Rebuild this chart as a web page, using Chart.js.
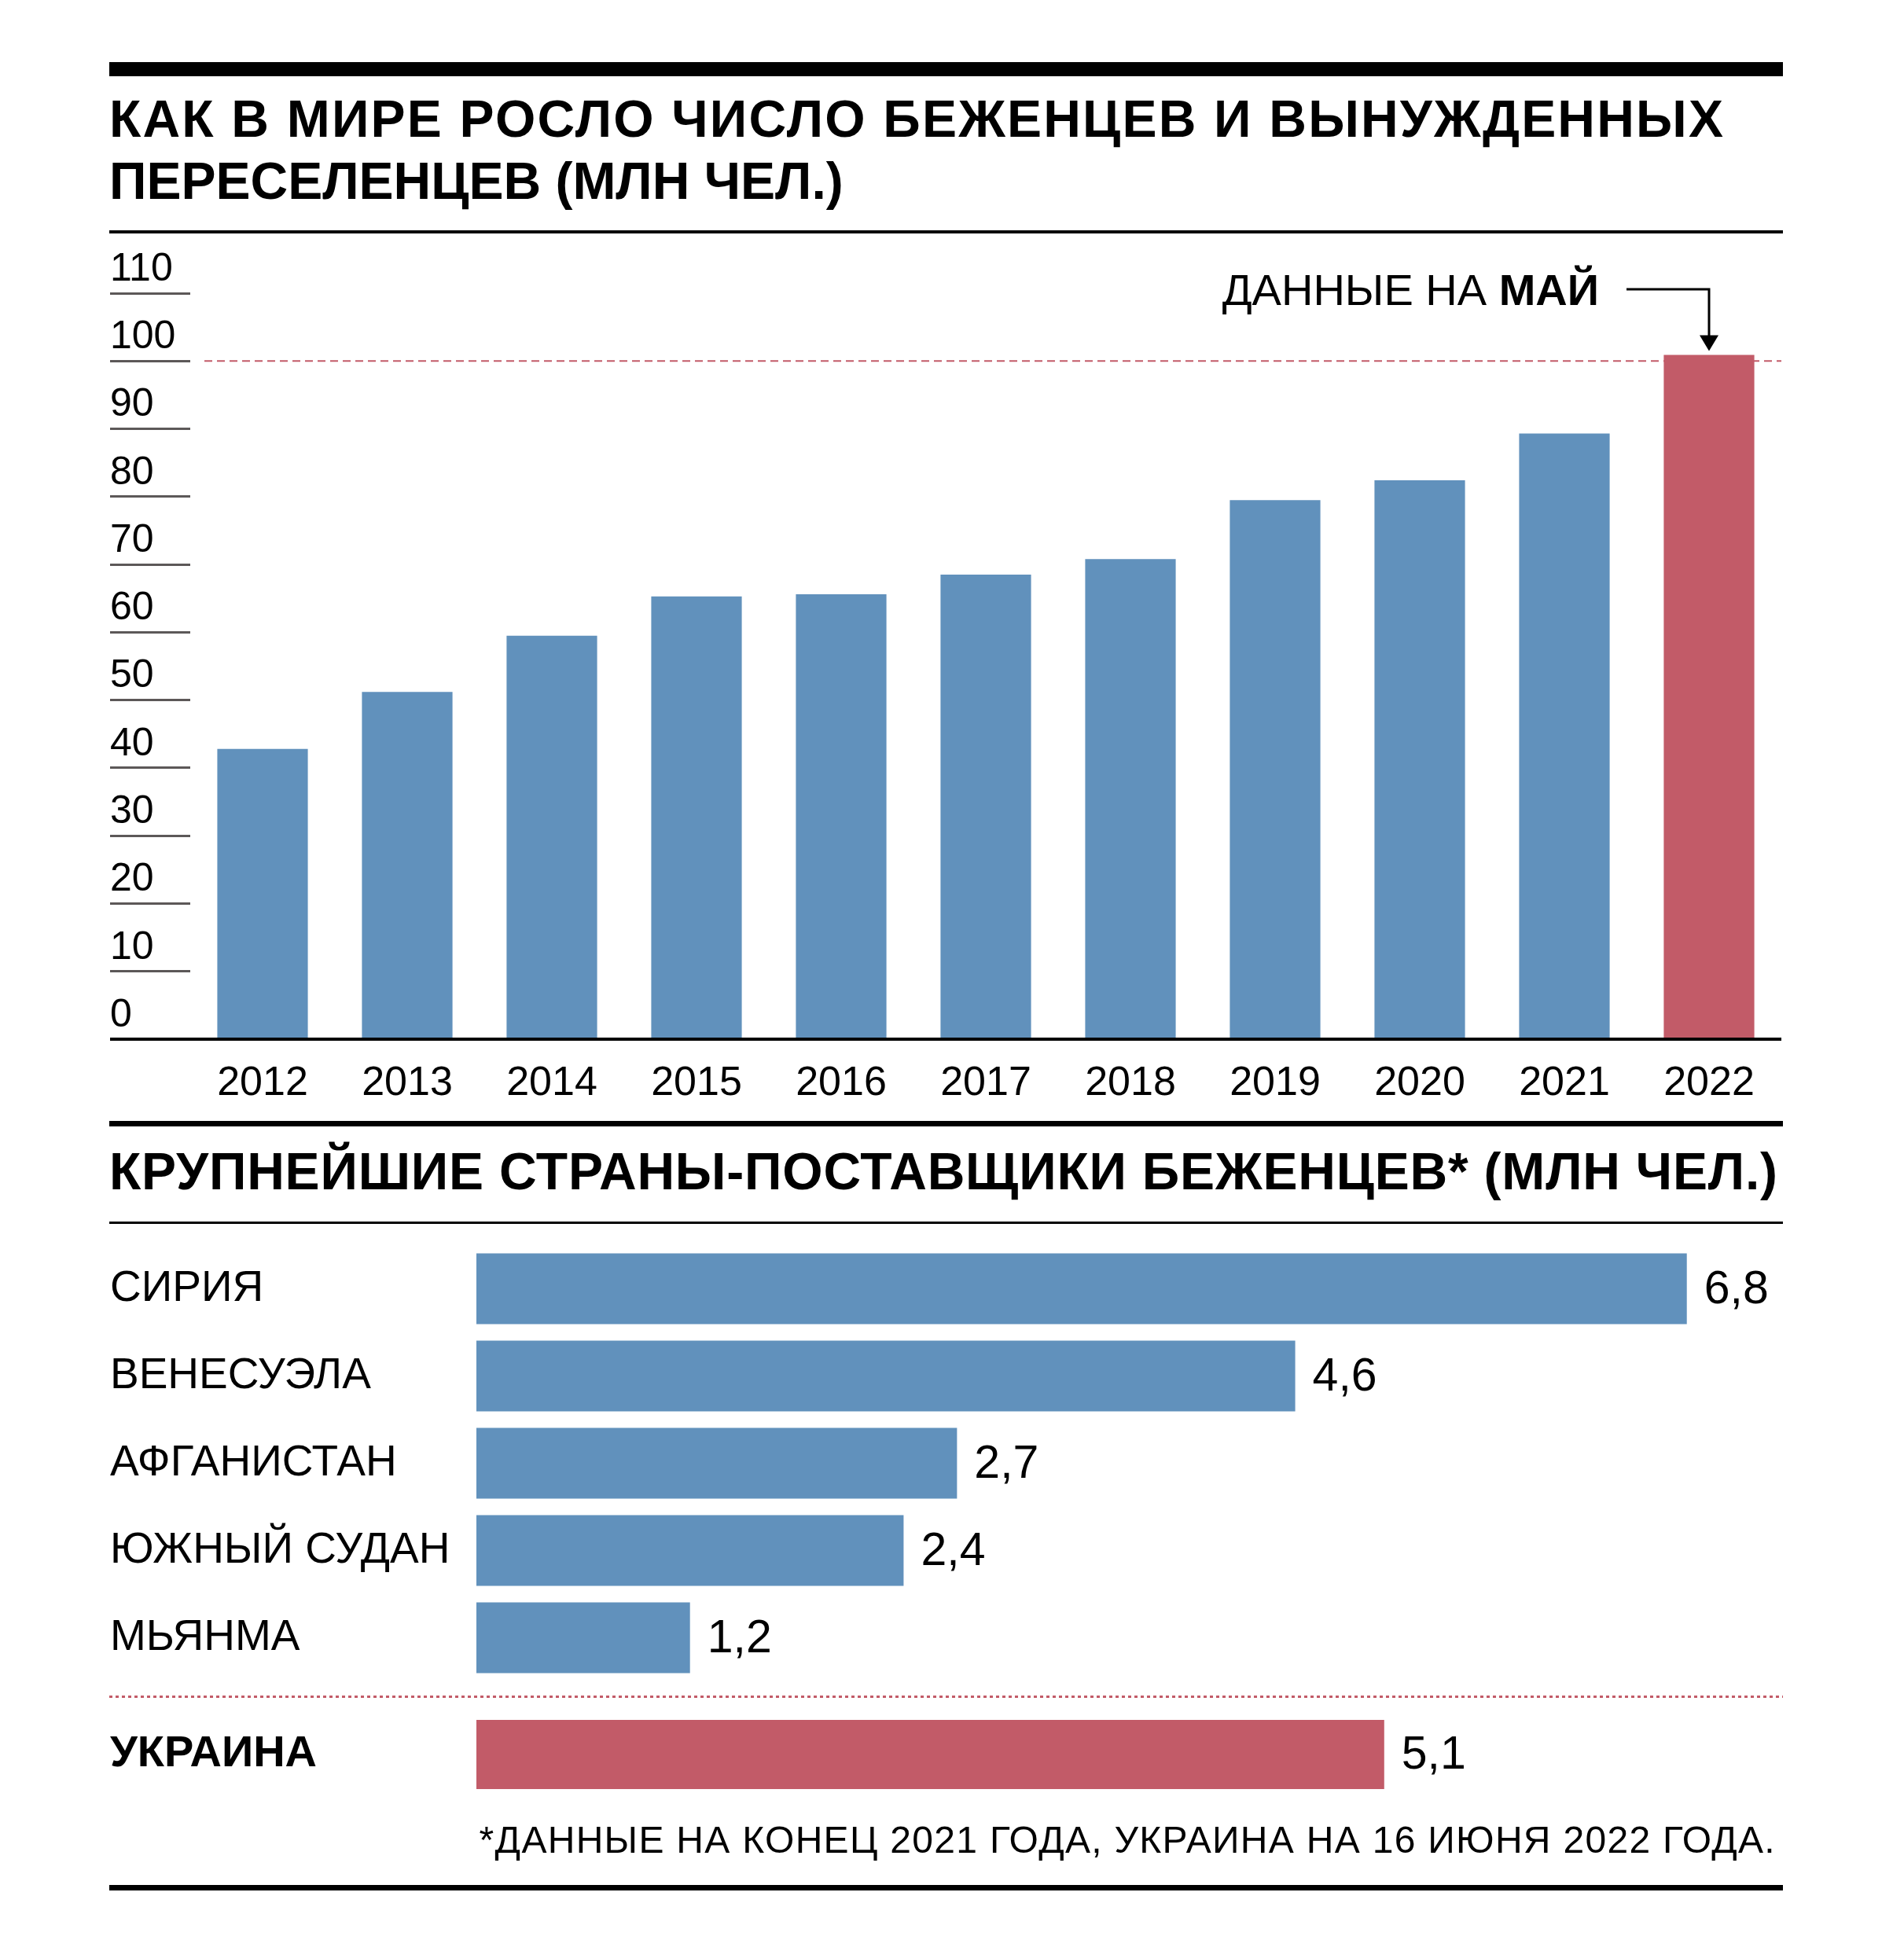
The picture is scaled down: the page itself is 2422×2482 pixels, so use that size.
<!DOCTYPE html>
<html lang="ru">
<head>
  <meta charset="UTF-8" />
  <title>Беженцы и вынужденные переселенцы</title>
  <script src="https://cdn.jsdelivr.net/npm/chart.js"></script>
  <style>
    body {
      margin: 0;
      width: 2422px;
      height: 2482px;
      background: #fff;
      position: relative;
      font-family: "Liberation Sans", Arial, sans-serif;
      color: #000;
      overflow: hidden;
    }

    .rule {
      position: absolute;
      left: 139px;
      width: 2129px;
      background: #000;
    }

    .title {
      position: absolute;
      left: 139px;
      margin: 0;
      font-size: 66px;
      font-weight: bold;
      line-height: 79px;
      white-space: nowrap;
    }

    .dotted {
      position: absolute;
      left: 139px;
      width: 2129px;
      height: 3px;
      background: repeating-linear-gradient(90deg, #c25b68 0 4px, transparent 4px 8px);
    }

    .note {
      position: absolute;
      right: 163px;
      font-size: 48px;
      line-height: 48px;
      letter-spacing: 1.3px;
      white-space: nowrap;
    }

    canvas {
      position: absolute;
      left: 0;
    }
  </style>
</head>
<body>

  <div class="rule" style="top:79px;height:18px"></div>
  <h1 class="title" style="top:112px"><span style="letter-spacing:2.2px">КАК В МИРЕ РОСЛО ЧИСЛО БЕЖЕНЦЕВ И ВЫНУЖДЕННЫХ</span><br>ПЕРЕСЕЛЕНЦЕВ (МЛН ЧЕЛ.)</h1>
  <div class="rule" style="top:293px;height:4px"></div>

  <canvas id="yearsChart" width="2422" height="1120" style="top:300px"></canvas>

  <div class="rule" style="top:1426px;height:7px"></div>
  <h2 class="title" style="top:1451px;letter-spacing:0.8px">КРУПНЕЙШИЕ СТРАНЫ-ПОСТАВЩИКИ БЕЖЕНЦЕВ* (МЛН ЧЕЛ.)</h2>
  <div class="rule" style="top:1554px;height:3px"></div>

  <div class="dotted" style="top:2157px"></div>
  <canvas id="countriesChart" width="2422" height="623" style="top:1550px"></canvas>
  <canvas id="ukraineChart" width="2422" height="178" style="top:2143px"></canvas>

  <div class="note" style="top:2317px">*ДАННЫЕ НА КОНЕЦ 2021 ГОДА, УКРАИНА НА 16 ИЮНЯ 2022 ГОДА.</div>
  <div class="rule" style="top:2398px;height:7px"></div>

  <script>
    // values
    const years = ["2012", "2013", "2014", "2015", "2016", "2017", "2018", "2019", "2020", "2021", "2022"];
    const displaced = [42.8, 51.2, 59.5, 65.3, 65.6, 68.5, 70.8, 79.5, 82.4, 89.3, 100.9];
    const yTickValues = [0, 10, 20, 30, 40, 50, 60, 70, 80, 90, 100, 110];

    const countries = ["СИРИЯ", "ВЕНЕСУЭЛА", "АФГАНИСТАН", "ЮЖНЫЙ СУДАН", "МЬЯНМА"];
    const refugees = [6.8, 4.6, 2.7, 2.4, 1.2];
    const ukraineLabel = ["УКРАИНА"];
    const ukraineRefugees = [5.1];

    const BLUE = "#6191bc";
    const RED = "#c25b68";
    const FONT = "'Liberation Sans', Arial, sans-serif";

    Chart.defaults.font.family = FONT;
    Chart.defaults.color = "#000";

    // dashed line at 100 mln, behind the bars
    const hundredLine = {
      id: "hundredLine",
      beforeDatasetsDraw(chart) {
        const { ctx, chartArea, scales } = chart;
        const y = scales.y.getPixelForValue(100);
        ctx.save();
        ctx.strokeStyle = RED;
        ctx.lineWidth = 2;
        ctx.setLineDash([10, 6]);
        ctx.beginPath();
        ctx.moveTo(chartArea.left + 18, y);
        ctx.lineTo(chartArea.right, y);
        ctx.stroke();
        ctx.restore();
      }
    };

    // "ДАННЫЕ НА МАЙ" with arrow to the last bar
    const mayNote = {
      id: "mayNote",
      afterDatasetsDraw(chart) {
        const { ctx, chartArea } = chart;
        const meta = chart.getDatasetMeta(0);
        const bar = meta.data[meta.data.length - 1];
        const armY = chartArea.top - 5;
        const tipY = bar.y - 5;

        ctx.save();
        ctx.strokeStyle = "#000";
        ctx.fillStyle = "#000";
        ctx.lineWidth = 3;
        ctx.beginPath();
        ctx.moveTo(bar.x - 105, armY);
        ctx.lineTo(bar.x, armY);
        ctx.lineTo(bar.x, tipY - 18);
        ctx.stroke();
        ctx.beginPath();
        ctx.moveTo(bar.x - 12, tipY - 20);
        ctx.lineTo(bar.x + 12, tipY - 20);
        ctx.lineTo(bar.x, tipY);
        ctx.closePath();
        ctx.fill();

        const textRight = bar.x - 140;
        const baseY = chartArea.top + 15;
        ctx.textBaseline = "alphabetic";
        ctx.textAlign = "right";
        ctx.font = "bold 56px " + FONT;
        ctx.fillText("МАЙ", textRight, baseY);
        const boldW = ctx.measureText("МАЙ").width;
        ctx.font = "56px " + FONT;
        ctx.fillText("ДАННЫЕ НА ", textRight - boldW, baseY);
        ctx.restore();
      }
    };

    // numbers at the end of horizontal bars
    const valueLabels = {
      id: "valueLabels",
      afterDatasetsDraw(chart) {
        const { ctx } = chart;
        const meta = chart.getDatasetMeta(0);
        const values = chart.data.datasets[0].data;
        ctx.save();
        ctx.font = "59px " + FONT;
        ctx.fillStyle = "#000";
        ctx.textAlign = "left";
        ctx.textBaseline = "middle";
        meta.data.forEach((bar, i) => {
          ctx.fillText(String(values[i]).replace(".", ","), bar.x + 22, bar.y + 2);
        });
        ctx.restore();
      }
    };

    new Chart(document.getElementById("yearsChart"), {
      type: "bar",
      data: {
        labels: years,
        datasets: [{
          data: displaced,
          backgroundColor: years.map((y, i) => i === years.length - 1 ? RED : BLUE),
          barPercentage: 0.626,
          categoryPercentage: 1
        }]
      },
      plugins: [hundredLine, mayNote],
      options: {
        responsive: false,
        animation: false,
        layout: { padding: { left: 140, right: 156, top: 73, bottom: 0 } },
        plugins: {
          legend: { display: false },
          tooltip: { enabled: false }
        },
        scales: {
          x: {
            grid: { display: false, drawTicks: false },
            border: { display: false },
            ticks: { font: { size: 52 }, padding: 25, maxRotation: 0 },
            afterFit: scale => { scale.height = 98; }
          },
          y: {
            min: 0,
            max: 110,
            afterBuildTicks: scale => { scale.ticks = yTickValues.map(v => ({ value: v })); },
            border: { display: false },
            grid: {
              drawTicks: true,
              tickLength: 102,
              color: c => c.tick && c.tick.value === 0 ? "#000" : "rgba(0,0,0,0)",
              tickColor: c => c.tick && c.tick.value === 0 ? "#000" : "#5c5858",
              lineWidth: c => c.tick && c.tick.value === 0 ? 4 : 3,
              tickWidth: c => c.tick && c.tick.value === 0 ? 4 : 3
            },
            ticks: {
              font: { size: 50 },
              crossAlign: "far",
              padding: 0,
              labelOffset: -30
            },
            afterFit: scale => { scale.width = 102; }
          }
        }
      }
    });

    function countryOptions(bold) {
      return {
        indexAxis: "y",
        responsive: false,
        animation: false,
        layout: { padding: { left: 140, right: 154, top: 34, bottom: 34 } },
        plugins: {
          legend: { display: false },
          tooltip: { enabled: false }
        },
        scales: {
          x: { display: false, min: 0, max: 7.34 },
          y: {
            grid: { display: false, drawTicks: false },
            border: { display: false },
            ticks: {
              font: { size: bold ? 56 : 55, weight: bold ? "bold" : "normal" },
              crossAlign: "far",
              padding: 0
            },
            afterFit: scale => { scale.width = 466; }
          }
        }
      };
    }

    new Chart(document.getElementById("countriesChart"), {
      type: "bar",
      data: {
        labels: countries,
        datasets: [{
          data: refugees,
          backgroundColor: BLUE,
          barPercentage: 0.81,
          categoryPercentage: 1
        }]
      },
      plugins: [valueLabels],
      options: countryOptions(false)
    });

    new Chart(document.getElementById("ukraineChart"), {
      type: "bar",
      data: {
        labels: ukraineLabel,
        datasets: [{
          data: ukraineRefugees,
          backgroundColor: RED,
          barPercentage: 0.8,
          categoryPercentage: 1
        }]
      },
      plugins: [valueLabels],
      options: countryOptions(true)
    });
  </script>

</body>
</html>
